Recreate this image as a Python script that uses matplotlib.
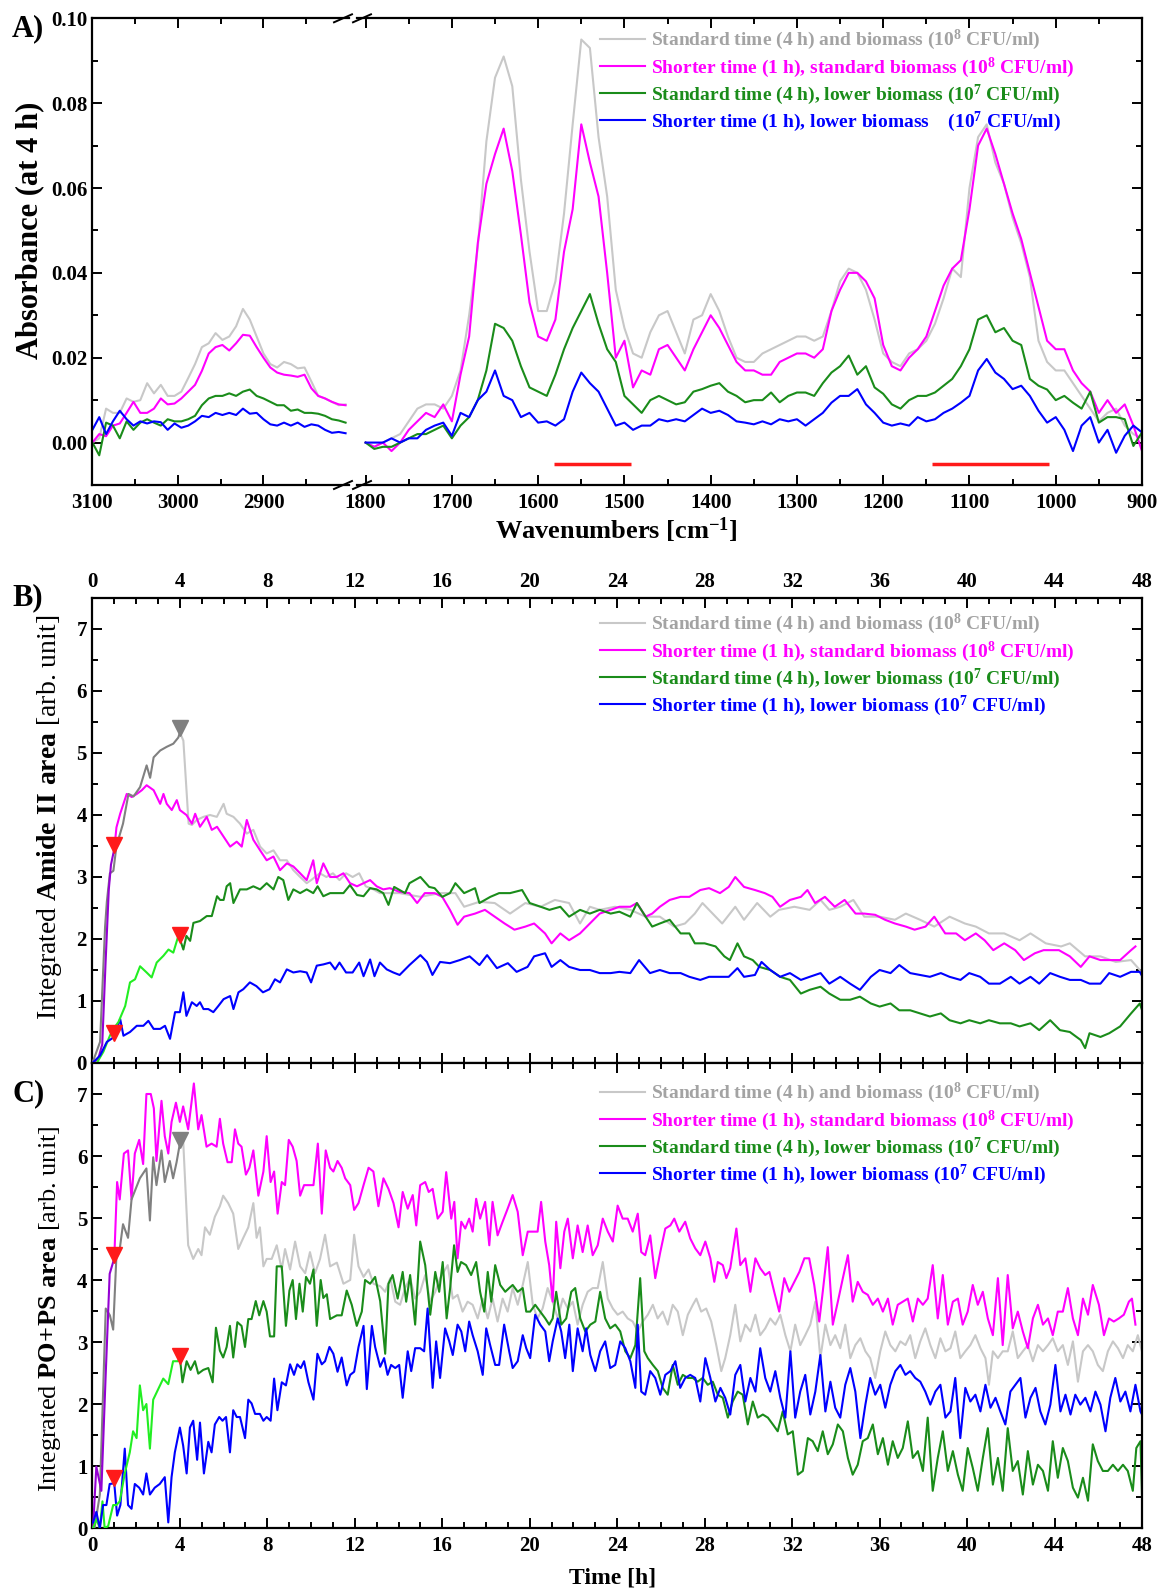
import numpy as np
import matplotlib
matplotlib.use("Agg")
import matplotlib.pyplot as plt
from matplotlib.ticker import MultipleLocator, FixedLocator, FormatStrFormatter
from matplotlib.lines import Line2D

plt.rcParams['font.family'] = 'Liberation Serif'
plt.rcParams['font.weight'] = 'bold'
plt.rcParams['mathtext.fontset'] = 'custom'
plt.rcParams['mathtext.rm'] = 'Liberation Serif:bold'
plt.rcParams['mathtext.bf'] = 'Liberation Serif:bold'
plt.rcParams['mathtext.it'] = 'Liberation Serif:bold'
plt.rcParams['axes.linewidth'] = 1.6

# colours
GRAY = '#c8c8c8'
GRAY_DARK = '#808080'
GRAY_TXT = '#a3a3a3'
MAGENTA = '#ff00ff'
PURPLE = '#9400d3'
GREEN = '#1a8c1a'
LIME = '#22ee22'
BLUE = '#0000ff'
RED = '#ff1a1a'

labels_a = ['Standard time (4 h) and biomass (10$^{8}$ CFU/ml)',
            'Shorter time (1 h), standard biomass (10$^{8}$ CFU/ml)',
            'Standard time (4 h), lower biomass (10$^{7}$ CFU/ml)',
            'Shorter time (1 h), lower biomass    (10$^{7}$ CFU/ml)']
labels_bc = labels_a[:3] + ['Shorter time (1 h), lower biomass (10$^{7}$ CFU/ml)']

# ---------------- panel A : spectra at 4 h ----------------
wn_left = np.arange(3100, 2800, -8)          # 3100 ... 2804
gray_l = [0.000, 0.001, 0.008, 0.007, 0.007, 0.0104, 0.0096, 0.010, 0.014, 0.0116,
          0.0136, 0.011, 0.011, 0.012, 0.0152, 0.0185, 0.0225, 0.0234, 0.0258, 0.0242,
          0.025, 0.0274, 0.0315, 0.029, 0.025, 0.021, 0.0185, 0.0177, 0.019, 0.0185,
          0.0175, 0.0177, 0.0144, 0.011, 0.0104, 0.0096, 0.0088, 0.009]
mag_l = [0.000, 0.002, 0.0015, 0.004, 0.0045, 0.007, 0.0096, 0.007, 0.007, 0.008,
         0.0104, 0.009, 0.0092, 0.0104, 0.012, 0.0136, 0.0169, 0.021, 0.0225, 0.023,
         0.0217, 0.0234, 0.0254, 0.0252, 0.0225, 0.020, 0.0177, 0.0165, 0.016, 0.0158,
         0.0155, 0.016, 0.0128, 0.011, 0.0104, 0.0096, 0.009, 0.0088]
green_l = [0.000, -0.003, 0.0047, 0.004, 0.001, 0.005, 0.003, 0.0047, 0.0055, 0.0047,
           0.004, 0.0055, 0.005, 0.005, 0.0055, 0.0063, 0.0088, 0.0104, 0.011, 0.011,
           0.0116, 0.011, 0.012, 0.0125, 0.011, 0.0104, 0.0096, 0.0088, 0.0088, 0.0075,
           0.0078, 0.007, 0.007, 0.0068, 0.0063, 0.0055, 0.0052, 0.0047]
blue_l = [0.003, 0.006, 0.002, 0.005, 0.0075, 0.0055, 0.004, 0.005, 0.0045, 0.005,
          0.0048, 0.003, 0.0045, 0.0035, 0.004, 0.005, 0.0063, 0.006, 0.007, 0.0065,
          0.007, 0.0065, 0.008, 0.0068, 0.007, 0.0055, 0.0043, 0.004, 0.0047, 0.004,
          0.0047, 0.0037, 0.0043, 0.004, 0.003, 0.0023, 0.0025, 0.0022]

wn_right = np.arange(1800, 899, -10)         # 1800 ... 900
gray_r = [0.000, -0.001, 0.000, 0.001, 0.002, 0.005, 0.008, 0.009, 0.009, 0.008,
          0.011, 0.017, 0.030, 0.046, 0.071, 0.086, 0.091, 0.084, 0.062, 0.045,
          0.031, 0.031, 0.038, 0.054, 0.075, 0.095, 0.093, 0.072, 0.058, 0.036,
          0.027, 0.021, 0.020, 0.026, 0.030, 0.031, 0.026, 0.021, 0.029, 0.030,
          0.035, 0.031, 0.025, 0.020, 0.019, 0.019, 0.021, 0.022, 0.023, 0.024,
          0.025, 0.025, 0.024, 0.025, 0.031, 0.038, 0.041, 0.040, 0.036, 0.029,
          0.021, 0.019, 0.018, 0.021, 0.022, 0.024, 0.028, 0.034, 0.041, 0.039,
          0.060, 0.072, 0.075, 0.066, 0.061, 0.053, 0.047, 0.039, 0.024, 0.019,
          0.017, 0.017, 0.014, 0.011, 0.008, 0.005, 0.007, 0.008, 0.004, 0.002,
          0.001]
mag_r = [0.000, -0.001, 0.000, -0.002, 0.000, 0.003, 0.005, 0.007, 0.006, 0.009,
         0.005, 0.016, 0.025, 0.047, 0.061, 0.068, 0.074, 0.064, 0.049, 0.033,
         0.025, 0.024, 0.029, 0.045, 0.055, 0.075, 0.066, 0.058, 0.040, 0.020,
         0.024, 0.013, 0.017, 0.016, 0.022, 0.023, 0.020, 0.017, 0.022, 0.026,
         0.030, 0.027, 0.023, 0.019, 0.017, 0.017, 0.016, 0.016, 0.019, 0.020,
         0.021, 0.021, 0.020, 0.022, 0.031, 0.036, 0.040, 0.040, 0.038, 0.034,
         0.023, 0.018, 0.017, 0.020, 0.022, 0.025, 0.031, 0.037, 0.041, 0.043,
         0.055, 0.070, 0.074, 0.068, 0.061, 0.054, 0.048, 0.040, 0.032, 0.024,
         0.022, 0.022, 0.017, 0.014, 0.012, 0.007, 0.010, 0.007, 0.009, 0.004,
         -0.002]
green_r = [0.000, -0.0015, -0.001, -0.001, 0.000, 0.001, 0.002, 0.002, 0.003, 0.004,
           0.001, 0.004, 0.006, 0.010, 0.017, 0.028, 0.027, 0.024, 0.018, 0.013,
           0.012, 0.011, 0.016, 0.022, 0.027, 0.031, 0.035, 0.028, 0.022, 0.019,
           0.011, 0.009, 0.007, 0.010, 0.011, 0.010, 0.009, 0.0095, 0.012, 0.0126,
           0.0134, 0.014, 0.012, 0.011, 0.0095, 0.010, 0.010, 0.0118, 0.0095, 0.011,
           0.0118, 0.0118, 0.011, 0.014, 0.0165, 0.018, 0.0205, 0.016, 0.018, 0.013,
           0.0115, 0.009, 0.008, 0.010, 0.011, 0.011, 0.0118, 0.0134, 0.015, 0.018,
           0.022, 0.029, 0.030, 0.026, 0.027, 0.024, 0.023, 0.015, 0.0134, 0.0125,
           0.010, 0.011, 0.0094, 0.008, 0.012, 0.0047, 0.006, 0.006, 0.0055, -0.0008,
           0.0024]
blue_r = [0.000, 0.000, 0.000, 0.001, 0.000, 0.001, 0.001, 0.003, 0.004, 0.0047,
          0.0016, 0.007, 0.006, 0.010, 0.012, 0.017, 0.011, 0.010, 0.006, 0.007,
          0.0047, 0.005, 0.004, 0.0055, 0.012, 0.0165, 0.014, 0.012, 0.008, 0.004,
          0.0047, 0.003, 0.004, 0.004, 0.0055, 0.005, 0.0055, 0.005, 0.0065, 0.008,
          0.007, 0.0075, 0.0065, 0.005, 0.0047, 0.0043, 0.005, 0.0043, 0.0055, 0.005,
          0.0055, 0.004, 0.0055, 0.007, 0.0094, 0.011, 0.011, 0.0126, 0.009, 0.007,
          0.0047, 0.004, 0.0045, 0.004, 0.006, 0.005, 0.0055, 0.007, 0.008, 0.0094,
          0.011, 0.017, 0.0197, 0.0165, 0.015, 0.0126, 0.0134, 0.011, 0.0075, 0.0047,
          0.006, 0.003, -0.002, 0.004, 0.006, 0.000, 0.003, -0.0024, 0.0016, 0.004,
          0.0024]
# integration ranges (Amide II, PO+PS) marked under the spectra
band_amide = (1582, 1492)
band_pops = (1143, 1008)
band_level = -0.005

# ---------------- panel B : integrated Amide II area ----------------
gray_b = [(0.0, 0.0), (0.35, 0.34), (0.58, 2.2), (0.66, 2.6), (0.8, 3.06), (0.96, 3.1),
          (1.1, 3.5), (1.4, 3.86), (1.65, 4.34), (1.88, 4.3), (2.18, 4.45), (2.48, 4.8),
          (2.64, 4.6), (2.8, 4.93), (3.1, 5.04), (3.4, 5.1), (3.7, 5.15), (3.93, 5.25),
          (4.0, 5.33), (4.16, 5.2), (4.4, 3.86), (4.55, 3.84), (4.77, 3.92), (5.08, 3.97),
          (5.38, 4.0), (5.69, 3.97), (6.0, 4.18), (6.14, 4.02), (6.45, 3.97), (6.75, 3.86),
          (7.06, 3.7), (7.36, 3.76), (7.67, 3.49), (7.97, 3.38), (8.28, 3.43), (8.58, 3.27),
          (8.89, 3.27), (9.19, 3.11), (9.5, 3.0), (9.8, 2.9), (10.0, 2.95), (10.4, 3.06),
          (10.7, 3.0), (11.0, 3.06), (11.3, 2.95), (11.6, 3.06), (11.9, 3.0), (12.2, 3.06),
          (12.5, 2.85), (12.85, 2.8), (13.15, 2.74), (13.8, 2.74), (14.05, 2.74), (15.0, 2.68),
          (15.9, 2.74), (16.6, 2.74), (17.0, 2.52), (17.7, 2.6), (18.4, 2.58), (19.1, 2.41),
          (19.8, 2.58), (20.5, 2.52), (21.15, 2.63), (21.8, 2.58), (22.3, 2.25), (22.75, 2.52),
          (23.2, 2.47), (23.9, 2.52), (24.6, 2.47), (25.3, 2.36), (25.95, 2.36), (26.6, 2.2),
          (27.1, 2.25), (27.55, 2.41), (27.9, 2.58), (28.2, 2.47), (28.8, 2.25), (29.4, 2.52),
          (29.8, 2.31), (30.4, 2.58), (31.0, 2.36), (31.4, 2.47), (32.1, 2.52), (32.8, 2.47),
          (33.3, 2.63), (33.7, 2.47), (34.2, 2.52), (34.8, 2.63), (35.3, 2.36), (36.0, 2.36),
          (36.7, 2.31), (37.2, 2.41), (37.85, 2.31), (38.5, 2.2), (39.2, 2.36), (39.9, 2.25),
          (40.4, 2.2), (41.0, 2.09), (41.7, 2.09), (42.4, 1.98), (42.9, 2.09), (43.6, 1.93),
          (44.3, 1.88), (44.7, 1.93), (45.4, 1.72), (46.1, 1.72), (46.8, 1.63), (47.5, 1.66),
          (47.9, 1.5)]
mag_b = [(0.0, 0.0), (0.27, 0.07), (0.45, 0.3), (0.6, 1.6), (0.75, 2.8), (0.85, 3.2),
         (1.0, 3.45), (1.1, 3.8), (1.27, 4.02), (1.57, 4.34), (1.8, 4.29), (2.03, 4.34),
         (2.26, 4.4), (2.48, 4.48), (2.8, 4.4), (3.1, 4.18), (3.25, 4.34), (3.4, 4.18),
         (3.63, 4.08), (3.86, 4.24), (4.0, 4.08), (4.3, 4.0), (4.55, 3.86), (4.7, 4.02),
         (4.92, 3.81), (5.23, 3.97), (5.46, 3.76), (5.7, 3.81), (6.0, 3.65), (6.3, 3.49),
         (6.6, 3.57), (6.83, 3.49), (7.06, 3.92), (7.36, 3.6), (7.67, 3.43), (7.97, 3.27),
         (8.28, 3.33), (8.58, 3.11), (8.89, 3.22), (9.19, 3.17), (9.5, 3.06), (9.8, 2.95),
         (10.1, 3.27), (10.26, 2.9), (10.56, 3.22), (10.87, 3.0), (11.17, 3.0), (11.48, 3.06),
         (11.78, 2.9), (12.1, 2.85), (12.4, 2.9), (12.7, 2.95), (13.0, 2.85), (13.3, 2.8),
         (13.6, 2.82), (14.05, 2.76), (14.5, 2.74), (14.85, 2.58), (15.2, 2.74), (15.65, 2.74),
         (16.0, 2.68), (16.35, 2.47), (16.7, 2.23), (17.0, 2.36), (17.5, 2.41), (17.95, 2.47),
         (18.4, 2.36), (18.85, 2.25), (19.3, 2.15), (19.8, 2.2), (20.2, 2.25), (20.7, 2.09),
         (21.0, 1.93), (21.4, 2.09), (21.8, 1.98), (22.3, 2.09), (22.75, 2.25), (23.2, 2.41),
         (23.7, 2.47), (24.1, 2.52), (24.6, 2.52), (24.9, 2.58), (25.3, 2.36), (25.6, 2.41),
         (25.95, 2.52), (26.4, 2.63), (26.9, 2.68), (27.3, 2.68), (27.8, 2.79), (28.2, 2.82),
         (28.7, 2.74), (29.1, 2.84), (29.4, 3.0), (29.8, 2.84), (30.3, 2.79), (30.75, 2.74),
         (31.1, 2.68), (31.45, 2.52), (31.9, 2.63), (32.4, 2.68), (32.7, 2.79), (33.05, 2.58),
         (33.5, 2.68), (33.95, 2.52), (34.4, 2.63), (34.9, 2.41), (35.3, 2.41), (35.8, 2.39),
         (36.25, 2.31), (36.7, 2.25), (37.2, 2.2), (37.6, 2.15), (38.1, 2.2), (38.5, 2.36),
         (39.0, 2.09), (39.5, 2.09), (39.9, 1.98), (40.4, 2.09), (40.8, 1.98), (41.2, 1.82),
         (41.7, 1.93), (42.2, 1.82), (42.6, 1.66), (43.1, 1.77), (43.5, 1.82), (44.2, 1.82),
         (44.7, 1.72), (45.2, 1.55), (45.6, 1.72), (46.1, 1.66), (46.5, 1.66), (47.0, 1.66),
         (47.5, 1.82), (47.7, 1.88)]
green_b = [(0.2, 0.0), (0.5, 0.18), (0.8, 0.44), (0.96, 0.55), (1.19, 0.66), (1.5, 0.92),
           (1.72, 1.3), (1.95, 1.35), (2.18, 1.56), (2.48, 1.46), (2.71, 1.38), (2.94, 1.62),
           (3.25, 1.73), (3.48, 1.83), (3.7, 1.78), (3.93, 2.05), (4.0, 2.0), (4.16, 1.83),
           (4.3, 2.05), (4.47, 1.97), (4.62, 2.26), (4.92, 2.29), (5.23, 2.37), (5.46, 2.37),
           (5.7, 2.69), (5.84, 2.63), (6.0, 2.63), (6.14, 2.85), (6.3, 2.9), (6.45, 2.58),
           (6.75, 2.8), (7.06, 2.8), (7.36, 2.85), (7.67, 2.8), (7.97, 2.9), (8.28, 2.8),
           (8.5, 3.0), (8.73, 2.95), (8.96, 2.63), (9.19, 2.8), (9.5, 2.74), (9.8, 2.8),
           (10.1, 2.74), (10.3, 2.85), (10.56, 2.69), (10.87, 2.74), (11.17, 2.74), (11.48, 2.74),
           (11.78, 2.87), (12.1, 2.71), (12.4, 2.69), (12.7, 2.82), (13.0, 2.8), (13.3, 2.74),
           (13.54, 2.55), (13.8, 2.84), (14.3, 2.74), (14.5, 2.9), (15.0, 3.0), (15.4, 2.84),
           (15.65, 2.82), (16.0, 2.68), (16.35, 2.74), (16.6, 2.9), (17.0, 2.74), (17.5, 2.82),
           (17.7, 2.58), (18.2, 2.68), (18.6, 2.74), (19.1, 2.74), (19.65, 2.79), (20.0, 2.58),
           (20.5, 2.52), (20.9, 2.47), (21.4, 2.52), (21.8, 2.36), (22.3, 2.47), (22.75, 2.41),
           (23.2, 2.47), (23.7, 2.41), (24.1, 2.44), (24.6, 2.36), (24.9, 2.58), (25.3, 2.36),
           (25.6, 2.2), (25.95, 2.25), (26.4, 2.31), (26.9, 2.09), (27.3, 2.09), (27.55, 1.93),
           (28.0, 1.93), (28.5, 1.88), (28.9, 1.72), (29.15, 1.66), (29.5, 1.93), (29.8, 1.72),
           (30.2, 1.66), (30.5, 1.55), (31.0, 1.5), (31.45, 1.39), (31.9, 1.34), (32.4, 1.12),
           (32.8, 1.18), (33.3, 1.23), (33.7, 1.12), (34.2, 1.02), (34.65, 1.02), (35.1, 1.07),
           (35.6, 0.96), (36.0, 0.91), (36.5, 0.96), (36.9, 0.85), (37.4, 0.85), (37.85, 0.8),
           (38.3, 0.75), (38.8, 0.8), (39.2, 0.69), (39.7, 0.64), (40.1, 0.69), (40.6, 0.64),
           (41.0, 0.69), (41.5, 0.64), (42.0, 0.64), (42.4, 0.59), (42.9, 0.64), (43.3, 0.53),
           (43.8, 0.69), (44.25, 0.53), (44.7, 0.5), (45.2, 0.37), (45.4, 0.24), (45.6, 0.48),
           (46.1, 0.42), (46.5, 0.48), (47.0, 0.59), (47.5, 0.8), (47.9, 0.96), (48.1, 0.75)]
blue_b = [(0.0, 0.0), (0.35, 0.12), (0.66, 0.34), (1.0, 0.42), (1.27, 0.71), (1.42, 0.44),
          (1.72, 0.5), (2.03, 0.6), (2.33, 0.6), (2.56, 0.68), (2.8, 0.55), (3.1, 0.55),
          (3.32, 0.6), (3.55, 0.39), (3.78, 0.82), (4.0, 0.82), (4.16, 1.14), (4.3, 0.76),
          (4.55, 0.98), (4.77, 0.92), (4.92, 0.98), (5.08, 0.87), (5.3, 0.87), (5.53, 0.82),
          (5.76, 0.92), (6.0, 1.03), (6.3, 1.08), (6.45, 0.87), (6.68, 1.14), (6.9, 1.19),
          (7.2, 1.3), (7.5, 1.24), (7.8, 1.14), (8.1, 1.19), (8.35, 1.35), (8.58, 1.3),
          (8.89, 1.51), (9.19, 1.46), (9.5, 1.48), (9.8, 1.46), (10.0, 1.3), (10.26, 1.57),
          (10.56, 1.59), (10.87, 1.62), (11.1, 1.51), (11.3, 1.62), (11.6, 1.46), (11.9, 1.46),
          (12.2, 1.62), (12.4, 1.4), (12.7, 1.67), (12.9, 1.4), (13.15, 1.62), (13.46, 1.51),
          (13.76, 1.46), (14.05, 1.42), (14.5, 1.58), (15.0, 1.74), (15.3, 1.63), (15.55, 1.42),
          (15.9, 1.63), (16.35, 1.61), (16.8, 1.66), (17.25, 1.72), (17.7, 1.58), (18.05, 1.74),
          (18.5, 1.53), (19.0, 1.61), (19.4, 1.47), (19.9, 1.55), (20.2, 1.72), (20.7, 1.77),
          (21.0, 1.55), (21.4, 1.66), (21.8, 1.55), (22.3, 1.5), (22.75, 1.5), (23.2, 1.45),
          (23.7, 1.45), (24.1, 1.47), (24.6, 1.45), (25.0, 1.66), (25.5, 1.45), (25.95, 1.5),
          (26.4, 1.45), (26.9, 1.45), (27.3, 1.39), (27.8, 1.34), (28.2, 1.39), (28.7, 1.39),
          (29.1, 1.39), (29.5, 1.53), (29.8, 1.39), (30.3, 1.42), (30.6, 1.63), (31.0, 1.5),
          (31.45, 1.39), (31.9, 1.45), (32.4, 1.34), (32.8, 1.39), (33.3, 1.45), (33.7, 1.28),
          (34.2, 1.39), (34.65, 1.28), (35.1, 1.18), (35.6, 1.39), (36.0, 1.5), (36.5, 1.45),
          (36.9, 1.58), (37.4, 1.45), (37.85, 1.42), (38.3, 1.39), (38.8, 1.45), (39.2, 1.39),
          (39.7, 1.34), (40.1, 1.45), (40.6, 1.39), (41.0, 1.28), (41.5, 1.28), (42.0, 1.39),
          (42.4, 1.28), (42.9, 1.39), (43.3, 1.28), (43.8, 1.45), (44.25, 1.39), (44.7, 1.34),
          (45.2, 1.34), (45.6, 1.28), (46.1, 1.28), (46.5, 1.45), (47.0, 1.39), (47.5, 1.47),
          (47.9, 1.47), (48.1, 1.34)]
marks_b_red = [(1.0, 3.45), (1.0, 0.42), (4.0, 2.0)]
marks_b_gray = [(4.0, 5.35)]

# ---------------- panel C : integrated PO+PS area ----------------
gray_c = [(0.1, 0.0), (0.34, 0.54), (0.61, 3.54), (0.8, 3.43), (0.95, 3.2), (1.1, 4.4),
          (1.25, 4.5), (1.4, 4.9), (1.63, 4.68), (1.79, 5.3), (2.17, 5.64), (2.47, 5.8),
          (2.63, 4.96), (2.78, 5.98), (2.93, 5.53), (3.16, 6.09), (3.31, 5.58), (3.54, 5.92),
          (3.69, 5.64), (3.85, 5.9), (4.0, 6.2), (4.15, 6.26), (4.38, 4.56), (4.61, 4.34),
          (4.84, 4.5), (4.99, 4.4), (5.15, 4.85), (5.37, 4.73), (5.6, 5.02), (5.83, 5.19),
          (5.98, 5.36), (6.21, 5.24), (6.44, 5.07), (6.67, 4.5), (6.9, 4.68), (7.13, 4.85),
          (7.36, 5.24), (7.51, 4.68), (7.66, 4.85), (7.82, 4.22), (7.97, 4.34), (8.2, 4.34),
          (8.43, 4.56), (8.66, 4.17), (8.81, 4.5), (9.04, 4.17), (9.27, 4.62), (9.5, 4.22),
          (9.73, 4.11), (9.95, 4.45), (10.18, 4.11), (10.41, 4.34), (10.64, 4.73), (10.87, 4.22),
          (11.18, 4.28), (11.48, 3.94), (11.79, 4.0), (11.97, 4.73), (12.17, 4.22), (12.4, 4.05),
          (12.63, 4.17), (12.85, 3.94), (13.16, 3.9), (13.39, 3.81), (13.62, 4.03), (13.85, 3.65),
          (14.07, 3.6), (14.3, 3.87), (14.53, 4.03), (14.76, 3.7), (14.99, 3.81), (15.22, 4.08),
          (15.45, 3.65), (15.68, 3.81), (15.9, 4.03), (16.25, 4.24), (16.48, 3.7), (16.7, 3.76),
          (16.93, 3.49), (17.16, 3.65), (17.39, 3.6), (17.62, 3.38), (17.85, 3.7), (18.08, 3.38),
          (18.3, 3.7), (18.53, 3.33), (18.76, 3.7), (18.99, 3.49), (19.22, 3.87), (19.45, 3.6),
          (19.68, 3.92), (19.91, 4.29), (20.14, 3.6), (20.36, 3.38), (20.59, 3.54), (20.82, 3.87),
          (21.05, 3.65), (21.28, 3.38), (21.51, 3.7), (21.74, 3.54), (21.97, 3.65), (22.19, 3.28),
          (22.42, 3.6), (22.65, 3.81), (22.88, 3.87), (23.11, 3.87), (23.34, 4.29), (23.57, 3.7),
          (23.8, 3.54), (24.02, 3.44), (24.25, 3.49), (24.48, 3.38), (24.71, 3.33), (24.94, 3.17),
          (25.17, 3.33), (25.4, 3.44), (25.63, 3.6), (25.85, 3.38), (26.08, 3.49), (26.31, 3.28),
          (26.54, 3.6), (26.77, 3.49), (27.0, 3.11), (27.23, 3.44), (27.46, 3.6), (27.62, 3.7),
          (27.84, 3.49), (28.07, 3.54), (28.3, 3.33), (28.53, 2.95), (28.76, 2.53), (28.94, 2.74),
          (29.17, 3.11), (29.4, 3.6), (29.63, 3.01), (29.86, 3.28), (30.09, 3.17), (30.32, 3.44),
          (30.54, 3.11), (30.77, 3.22), (31.0, 3.38), (31.23, 3.28), (31.46, 3.44), (31.69, 3.11),
          (31.92, 2.85), (32.14, 3.28), (32.37, 2.95), (32.6, 3.11), (32.83, 3.28), (33.06, 3.65),
          (33.29, 2.74), (33.52, 3.28), (33.75, 2.95), (33.97, 3.11), (34.2, 2.9), (34.43, 3.28),
          (34.66, 2.74), (34.89, 2.95), (35.12, 3.06), (35.35, 2.85), (35.57, 2.74), (35.8, 2.42),
          (36.03, 2.85), (36.26, 3.17), (36.49, 2.95), (36.72, 2.85), (36.95, 3.01), (37.18, 2.95),
          (37.4, 3.11), (37.63, 2.74), (37.86, 3.01), (38.09, 3.22), (38.32, 2.95), (38.55, 2.74),
          (38.78, 3.06), (39.01, 2.85), (39.24, 2.9), (39.46, 3.17), (39.69, 2.74), (39.92, 2.85),
          (40.15, 2.95), (40.38, 3.11), (40.61, 2.9), (40.84, 2.74), (41.0, 2.31), (41.18, 2.85),
          (41.41, 2.74), (41.63, 2.85), (41.86, 2.85), (42.09, 3.17), (42.32, 2.74), (42.55, 2.85),
          (42.78, 2.95), (43.01, 2.69), (43.24, 2.95), (43.47, 2.85), (43.7, 2.95), (43.92, 3.06),
          (44.15, 2.85), (44.38, 2.95), (44.61, 2.63), (44.84, 3.01), (45.07, 2.36), (45.3, 2.85),
          (45.53, 2.95), (45.75, 2.85), (45.98, 2.63), (46.21, 2.53), (46.44, 2.85), (46.67, 3.01),
          (46.9, 2.9), (47.13, 2.74), (47.35, 2.95), (47.58, 2.85), (47.81, 3.11), (48.04, 2.79)]
mag_c = [(0.03, 0.0), (0.18, 0.99), (0.41, 0.6), (0.6, 2.4), (0.79, 4.1), (1.0, 4.35),
         (1.13, 5.58), (1.25, 5.3), (1.44, 6.04), (1.63, 6.09), (1.79, 5.3), (1.94, 6.04),
         (2.14, 6.26), (2.32, 5.87), (2.47, 7.0), (2.67, 7.0), (2.81, 6.77), (2.93, 5.92),
         (3.16, 6.89), (3.31, 6.32), (3.47, 6.04), (3.62, 6.55), (3.82, 6.86), (4.0, 6.55),
         (4.15, 6.8), (4.38, 6.43), (4.64, 7.17), (4.84, 6.43), (4.99, 6.66), (5.22, 6.15),
         (5.45, 6.2), (5.68, 6.15), (5.83, 6.6), (5.98, 6.2), (6.18, 5.9), (6.37, 5.9),
         (6.52, 6.43), (6.67, 6.2), (6.82, 6.15), (7.02, 5.7), (7.18, 5.81), (7.36, 6.09),
         (7.59, 5.36), (7.82, 5.75), (7.97, 6.32), (8.15, 5.58), (8.31, 5.75), (8.47, 5.07),
         (8.66, 5.58), (8.81, 5.53), (8.98, 6.26), (9.16, 6.15), (9.34, 5.92), (9.5, 5.36),
         (9.68, 5.53), (9.88, 5.53), (10.11, 5.53), (10.31, 6.2), (10.49, 5.07), (10.67, 6.09),
         (10.87, 5.81), (11.02, 5.75), (11.21, 5.92), (11.4, 5.81), (11.56, 5.64), (11.79, 5.53),
         (11.97, 5.13), (12.17, 5.24), (12.4, 5.53), (12.63, 5.81), (12.85, 5.75), (13.08, 5.19),
         (13.31, 5.64), (13.54, 5.47), (13.77, 5.24), (14.0, 4.85), (14.19, 5.42), (14.42, 5.15),
         (14.65, 5.37), (14.81, 4.88), (14.99, 5.53), (15.22, 5.58), (15.38, 5.42), (15.56, 5.47),
         (15.79, 4.99), (16.02, 5.1), (16.18, 5.74), (16.41, 4.99), (16.55, 5.26), (16.7, 4.35),
         (16.87, 4.94), (17.05, 4.83), (17.23, 4.99), (17.39, 4.78), (17.55, 5.31), (17.73, 4.99),
         (17.96, 5.26), (18.15, 4.56), (18.3, 5.26), (18.53, 4.72), (18.76, 4.94), (18.99, 5.15),
         (19.22, 5.37), (19.45, 5.1), (19.68, 4.4), (19.91, 4.78), (20.14, 4.78), (20.36, 4.78),
         (20.52, 5.26), (20.71, 4.62), (20.89, 4.24), (21.05, 3.65), (21.21, 4.94), (21.4, 4.19),
         (21.58, 4.78), (21.74, 4.99), (21.97, 4.35), (22.19, 4.88), (22.42, 4.45), (22.65, 4.88),
         (22.88, 4.4), (23.11, 4.56), (23.34, 4.99), (23.57, 4.78), (23.8, 4.62), (24.02, 5.2),
         (24.25, 4.99), (24.48, 4.99), (24.71, 4.78), (24.94, 5.07), (25.1, 4.45), (25.28, 4.4),
         (25.51, 4.72), (25.74, 4.03), (25.97, 4.45), (26.2, 4.83), (26.43, 4.88), (26.61, 4.99),
         (26.84, 4.78), (27.11, 4.94), (27.34, 4.67), (27.57, 4.51), (27.8, 4.4), (28.03, 4.62),
         (28.26, 4.35), (28.44, 3.97), (28.6, 4.29), (28.83, 4.24), (28.99, 4.03), (29.17, 4.19),
         (29.45, 4.83), (29.63, 4.24), (29.86, 4.35), (30.09, 3.81), (30.32, 4.35), (30.54, 4.19),
         (30.77, 4.08), (30.96, 4.13), (31.18, 3.81), (31.41, 3.49), (31.64, 4.03), (31.87, 3.81),
         (32.1, 3.97), (32.33, 4.13), (32.56, 4.35), (32.78, 4.35), (33.01, 3.92), (33.24, 3.33),
         (33.4, 3.81), (33.63, 4.53), (33.86, 3.28), (34.09, 3.65), (34.32, 4.03), (34.55, 4.4),
         (34.77, 3.65), (35.0, 3.97), (35.23, 3.81), (35.46, 3.76), (35.69, 3.6), (35.92, 3.7),
         (36.15, 3.49), (36.38, 3.7), (36.6, 3.28), (36.83, 3.6), (37.06, 3.65), (37.29, 3.7),
         (37.52, 3.33), (37.75, 3.7), (37.98, 3.6), (38.2, 3.7), (38.43, 4.24), (38.66, 3.38),
         (38.89, 4.08), (39.12, 3.28), (39.35, 3.65), (39.58, 3.7), (39.8, 3.28), (40.03, 3.49),
         (40.26, 3.92), (40.49, 3.6), (40.72, 3.81), (40.95, 3.38), (41.18, 3.11), (41.41, 4.03),
         (41.63, 2.95), (41.86, 4.08), (42.09, 3.22), (42.32, 3.49), (42.55, 3.17), (42.78, 2.9),
         (43.01, 3.38), (43.24, 3.6), (43.47, 3.28), (43.7, 3.38), (43.92, 3.11), (44.15, 3.49),
         (44.38, 3.49), (44.61, 3.87), (44.84, 3.38), (45.07, 3.11), (45.3, 3.7), (45.53, 3.44),
         (45.75, 3.92), (46.03, 3.6), (46.26, 3.11), (46.49, 3.38), (46.71, 3.33), (46.94, 3.38),
         (47.17, 3.44), (47.4, 3.65), (47.54, 3.7), (47.7, 3.28)]
green_c = [(0.03, 0.0), (0.18, 0.14), (0.34, 0.0), (0.46, 0.43), (0.56, 0.0), (0.72, 0.03),
           (0.95, 0.37), (1.1, 0.37), (1.25, 0.43), (1.48, 0.88), (1.71, 1.22), (1.86, 1.56),
           (2.02, 1.45), (2.17, 2.3), (2.32, 1.9), (2.47, 2.0), (2.63, 1.28), (2.78, 2.07),
           (3.01, 2.24), (3.24, 2.41), (3.47, 2.32), (3.69, 2.69), (3.92, 2.69), (4.0, 2.75),
           (4.12, 2.35), (4.31, 2.69), (4.49, 2.55), (4.69, 2.69), (4.84, 2.49), (5.07, 2.55),
           (5.3, 2.58), (5.5, 2.35), (5.65, 3.23), (5.83, 2.86), (5.98, 2.75), (6.14, 2.92),
           (6.29, 3.26), (6.44, 2.75), (6.63, 3.32), (6.82, 3.26), (6.98, 2.92), (7.13, 3.37),
           (7.28, 3.37), (7.47, 3.66), (7.63, 3.43), (7.82, 3.66), (7.97, 3.49), (8.12, 3.09),
           (8.31, 3.09), (8.43, 4.22), (8.66, 4.22), (8.85, 3.26), (9.01, 3.83), (9.16, 4.0),
           (9.31, 3.37), (9.47, 3.94), (9.62, 3.49), (9.77, 4.05), (9.95, 3.94), (10.11, 4.17),
           (10.26, 3.26), (10.44, 4.0), (10.56, 3.71), (10.72, 3.77), (10.87, 3.37), (11.18, 3.43),
           (11.4, 3.43), (11.63, 3.83), (11.86, 3.6), (12.09, 3.26), (12.32, 3.49), (12.47, 4.0),
           (12.7, 3.94), (12.93, 4.05), (13.16, 3.66), (13.39, 2.81), (13.54, 3.94), (13.73, 4.08),
           (13.96, 3.7), (14.19, 4.13), (14.35, 3.65), (14.53, 4.08), (14.76, 3.28), (14.99, 4.62),
           (15.22, 4.24), (15.45, 3.44), (15.68, 4.13), (15.86, 3.81), (16.02, 4.29), (16.2, 3.38),
           (16.36, 3.87), (16.54, 4.56), (16.7, 4.13), (16.86, 4.29), (17.09, 4.24), (17.32, 4.08),
           (17.55, 4.29), (17.73, 3.81), (17.92, 3.49), (18.08, 4.13), (18.24, 3.65), (18.42, 4.24),
           (18.65, 3.92), (18.88, 3.81), (19.06, 3.87), (19.22, 3.92), (19.45, 3.81), (19.68, 3.87),
           (19.84, 3.49), (20.02, 3.49), (20.25, 3.6), (20.48, 3.49), (20.71, 3.38), (20.89, 3.28),
           (21.05, 3.38), (21.21, 3.81), (21.44, 3.28), (21.67, 3.38), (21.9, 3.81), (22.08, 3.87),
           (22.31, 3.38), (22.54, 3.17), (22.77, 3.28), (23.0, 3.33), (23.22, 3.81), (23.45, 3.38),
           (23.68, 3.22), (23.91, 3.28), (24.14, 3.17), (24.37, 2.85), (24.6, 2.74), (24.83, 2.95),
           (25.05, 4.03), (25.24, 2.85), (25.4, 2.74), (25.63, 2.63), (25.86, 2.53), (26.08, 2.26),
           (26.31, 2.15), (26.54, 2.63), (26.77, 2.31), (27.0, 2.47), (27.23, 2.42), (27.46, 2.42),
           (27.68, 2.36), (27.91, 2.42), (28.14, 2.31), (28.37, 2.36), (28.6, 2.15), (28.83, 2.1),
           (29.06, 1.78), (29.28, 2.04), (29.51, 2.2), (29.74, 2.15), (29.97, 1.67), (30.2, 2.04),
           (30.43, 1.78), (30.66, 1.83), (30.89, 1.78), (31.12, 1.67), (31.34, 1.56), (31.57, 1.88),
           (31.8, 1.51), (32.03, 1.56), (32.26, 0.86), (32.49, 0.92), (32.72, 1.45), (32.94, 1.4),
           (33.17, 1.24), (33.4, 1.56), (33.63, 1.19), (33.86, 1.35), (34.09, 1.67), (34.32, 1.56),
           (34.55, 1.13), (34.77, 0.86), (35.0, 1.02), (35.23, 1.4), (35.46, 1.45), (35.69, 1.67),
           (35.92, 1.19), (36.15, 1.45), (36.38, 1.02), (36.6, 1.4), (36.83, 1.13), (37.06, 1.29),
           (37.29, 1.72), (37.52, 1.13), (37.75, 1.24), (37.98, 0.92), (38.2, 1.78), (38.43, 0.6),
           (38.66, 1.13), (38.89, 1.56), (39.12, 0.92), (39.35, 1.24), (39.58, 0.86), (39.8, 0.6),
           (40.03, 1.29), (40.26, 0.97), (40.49, 0.6), (40.72, 1.13), (40.95, 1.61), (41.18, 0.7),
           (41.41, 1.13), (41.63, 0.6), (41.86, 1.61), (42.09, 0.92), (42.32, 1.08), (42.55, 0.54),
           (42.78, 1.24), (43.01, 0.7), (43.24, 1.02), (43.47, 0.92), (43.7, 0.6), (43.92, 1.4),
           (44.15, 0.81), (44.38, 1.29), (44.61, 1.08), (44.84, 0.65), (45.07, 0.49), (45.3, 0.81),
           (45.53, 0.44), (45.75, 1.35), (45.98, 1.08), (46.21, 0.92), (46.44, 0.92), (46.67, 1.02),
           (46.9, 0.92), (47.13, 1.02), (47.35, 0.92), (47.58, 0.6), (47.74, 1.29), (47.93, 1.4),
           (48.0, 0.54)]
blue_c = [(0.03, 0.09), (0.18, 0.26), (0.34, 0.0), (0.49, 0.37), (0.64, 0.37), (0.79, 0.71),
          (1.0, 0.72), (1.13, 0.2), (1.28, 0.37), (1.48, 1.28), (1.63, 0.37), (1.79, 0.31),
          (1.94, 0.71), (2.14, 0.65), (2.32, 0.54), (2.47, 0.88), (2.63, 0.54), (2.85, 0.65),
          (3.08, 0.71), (3.31, 0.82), (3.47, 0.09), (3.62, 0.82), (3.77, 1.22), (4.0, 1.62),
          (4.15, 1.33), (4.31, 0.88), (4.46, 1.62), (4.61, 1.73), (4.79, 1.1), (4.92, 1.7),
          (5.1, 0.88), (5.3, 1.39), (5.45, 1.22), (5.6, 1.67), (5.8, 1.79), (5.95, 1.73),
          (6.11, 1.79), (6.29, 1.22), (6.44, 1.9), (6.6, 1.79), (6.75, 1.79), (6.98, 1.45),
          (7.13, 2.07), (7.28, 2.01), (7.44, 1.84), (7.66, 1.84), (7.82, 1.73), (7.97, 1.79),
          (8.15, 1.73), (8.31, 2.41), (8.46, 1.9), (8.66, 2.35), (8.85, 2.3), (9.04, 2.64),
          (9.22, 2.47), (9.37, 2.64), (9.53, 2.58), (9.68, 2.69), (9.88, 2.35), (10.11, 2.07),
          (10.29, 2.81), (10.49, 2.64), (10.64, 2.69), (10.84, 2.92), (11.02, 2.81), (11.21, 2.52),
          (11.4, 2.75), (11.63, 2.3), (11.79, 2.47), (11.97, 2.52), (12.17, 2.92), (12.4, 3.26),
          (12.55, 2.24), (12.78, 3.26), (12.93, 2.92), (13.16, 2.6), (13.34, 2.74), (13.5, 2.47),
          (13.66, 2.63), (13.85, 2.58), (14.03, 2.63), (14.19, 2.1), (14.42, 2.85), (14.58, 2.53),
          (14.76, 2.9), (14.99, 2.9), (15.17, 2.85), (15.33, 3.54), (15.56, 2.26), (15.72, 3.01),
          (15.9, 2.42), (16.13, 3.22), (16.32, 3.01), (16.48, 2.79), (16.7, 3.28), (16.87, 3.17),
          (17.05, 2.85), (17.23, 3.33), (17.39, 3.11), (17.62, 2.85), (17.85, 2.47), (18.01, 3.22),
          (18.19, 2.95), (18.42, 2.63), (18.6, 2.63), (18.83, 3.28), (19.06, 2.85), (19.22, 2.58),
          (19.45, 2.69), (19.68, 3.11), (19.84, 2.9), (20.02, 2.74), (20.25, 3.44), (20.48, 3.28),
          (20.71, 3.17), (20.89, 2.69), (21.05, 3.01), (21.28, 3.38), (21.44, 3.17), (21.62, 2.74),
          (21.81, 3.28), (21.97, 2.53), (22.19, 3.22), (22.42, 2.85), (22.58, 3.22), (22.77, 2.79),
          (23.0, 2.53), (23.22, 2.85), (23.45, 3.01), (23.68, 2.58), (23.91, 2.63), (24.14, 3.01),
          (24.37, 2.9), (24.6, 2.69), (24.83, 2.26), (24.94, 3.28), (25.1, 2.2), (25.28, 2.15),
          (25.51, 2.53), (25.74, 2.42), (25.97, 2.15), (26.2, 2.47), (26.43, 2.53), (26.66, 2.69),
          (26.88, 2.26), (27.11, 2.42), (27.34, 2.47), (27.57, 2.42), (27.8, 2.04), (28.03, 2.74),
          (28.26, 2.42), (28.49, 2.04), (28.72, 2.26), (28.94, 2.1), (29.17, 1.83), (29.4, 2.47),
          (29.63, 2.63), (29.86, 2.04), (30.09, 2.42), (30.32, 2.2), (30.54, 2.9), (30.77, 2.42),
          (31.0, 2.2), (31.23, 2.53), (31.46, 2.1), (31.69, 1.78), (31.92, 2.85), (32.14, 1.78),
          (32.37, 2.2), (32.6, 2.47), (32.83, 1.83), (33.06, 2.2), (33.29, 2.79), (33.52, 1.88),
          (33.75, 2.36), (33.97, 1.94), (34.2, 1.78), (34.43, 2.31), (34.66, 2.58), (34.89, 2.2),
          (35.12, 1.45), (35.35, 1.99), (35.57, 2.42), (35.8, 2.15), (36.03, 2.31), (36.26, 1.94),
          (36.49, 2.31), (36.72, 2.53), (36.95, 2.63), (37.18, 2.47), (37.4, 2.53), (37.63, 2.42),
          (37.86, 2.36), (38.09, 2.2), (38.32, 1.99), (38.55, 2.2), (38.78, 2.31), (39.01, 1.78),
          (39.24, 1.88), (39.46, 2.42), (39.69, 1.45), (39.92, 2.26), (40.15, 2.04), (40.38, 2.15),
          (40.61, 1.88), (40.84, 2.31), (41.07, 1.94), (41.3, 2.1), (41.52, 1.88), (41.75, 1.67),
          (41.98, 2.2), (42.21, 2.31), (42.44, 2.42), (42.67, 1.78), (42.9, 2.1), (43.13, 2.26),
          (43.35, 1.88), (43.58, 1.67), (43.81, 1.99), (44.04, 2.63), (44.27, 1.88), (44.5, 2.15),
          (44.73, 1.83), (44.95, 2.15), (45.18, 1.99), (45.41, 2.1), (45.64, 1.88), (45.87, 2.2),
          (46.1, 1.99), (46.33, 1.56), (46.55, 2.1), (46.78, 2.42), (47.01, 2.04), (47.24, 2.2),
          (47.47, 1.88), (47.7, 2.31), (47.93, 1.88), (48.0, 1.83)]
marks_c_red = [(1.0, 4.35), (1.0, 0.75), (4.0, 2.72)]
marks_c_gray = [(4.0, 6.2)]

# ---------------- figure ----------------
W, H = 1160, 1591
fig = plt.figure(figsize=(W / 100, H / 100), dpi=100)


def box(x0, y0, x1, y1):
    # pixel box (top-left origin) -> figure fraction rect
    return [x0 / W, 1 - y1 / H, (x1 - x0) / W, (y1 - y0) / H]


axL = fig.add_axes(box(92.4, 18.3, 349, 485))
axR = fig.add_axes(box(357, 18.3, 1142, 485))
axB = fig.add_axes(box(92.4, 598, 1142, 1063))
axC = fig.add_axes(box(92.4, 1063, 1142, 1528))

LW = 1.5
TICKSIZE = 15
LEG = dict(loc='upper left', frameon=False, fontsize=14, handlelength=2.3,
           handletextpad=0.3, labelspacing=0.15, borderpad=0, borderaxespad=0)


def ticks(ax):
    ax.tick_params(which='both', direction='in', width=1.4, labelsize=TICKSIZE)
    ax.tick_params(which='major', length=7)
    ax.tick_params(which='minor', length=4)


# panel A, left part
for vals, c in [(gray_l, GRAY), (mag_l, MAGENTA), (green_l, GREEN), (blue_l, BLUE)]:
    axL.plot(wn_left, vals, color=c, lw=LW)
axL.set_xlim(3100, 2800)
axL.set_ylim(-0.01, 0.10)
axL.xaxis.set_major_locator(FixedLocator([3100, 3000, 2900]))
axL.xaxis.set_minor_locator(FixedLocator([3050, 2950, 2850]))
axL.yaxis.set_major_locator(MultipleLocator(0.02))
axL.yaxis.set_minor_locator(MultipleLocator(0.01))
axL.yaxis.set_major_formatter(FormatStrFormatter('%.2f'))
axL.spines['right'].set_visible(False)
axL.tick_params(which='both', top=True, right=False)
ticks(axL)
axL.tick_params(axis='x', pad=6)

# panel A, right part
handles = []
for vals, c in [(gray_r, GRAY), (mag_r, MAGENTA), (green_r, GREEN), (blue_r, BLUE)]:
    h, = axR.plot(wn_right, vals, color=c, lw=LW)
    handles.append(h)
for band in (band_amide, band_pops):
    axR.plot(band, [band_level, band_level], color=RED, lw=2.5, solid_capstyle='butt')
axR.set_xlim(1810, 900)
axR.set_ylim(-0.01, 0.10)
axR.xaxis.set_major_locator(MultipleLocator(100))
axR.xaxis.set_minor_locator(MultipleLocator(50))
axR.yaxis.set_major_locator(MultipleLocator(0.02))
axR.yaxis.set_minor_locator(MultipleLocator(0.01))
axR.spines['left'].set_visible(False)
axR.tick_params(which='both', top=True, right=True, left=False, labelleft=False)
ticks(axR)
axR.tick_params(axis='x', pad=6)

# axis break marks
for yb in (18.3, 485):
    for xc in (343, 362):
        fig.add_artist(Line2D([(xc - 9) / W, (xc + 9) / W],
                              [1 - (yb + 4) / H, 1 - (yb - 4) / H],
                              color='black', lw=1.4))

txtcol = [GRAY_TXT, MAGENTA, GREEN, BLUE]
axR.legend(handles, labels_a, bbox_to_anchor=(0.3096, 0.979), labelcolor=txtcol, **LEG)

fig.text(616 / W, 1 - 530 / H, 'Wavenumbers [cm$^{-1}$]', ha='center', va='center',
         fontsize=19, fontweight='bold')
fig.text(30 / W, 1 - 230 / H, 'Absorbance (at 4 h)', ha='center', va='center',
         rotation=90, fontsize=22, fontweight='bold')
fig.text(12 / W, 1 - 29 / H, 'A)', ha='left', va='center', fontsize=22, fontweight='bold')


# panels B and C
def two_tone(ax, pts, t_split, c_early, c_late):
    t, v = np.array(pts).T
    i = np.searchsorted(t, t_split, side='right')
    ax.plot(t[:i], v[:i], color=c_early, lw=LW, zorder=3)
    ax.plot(t[i - 1:], v[i - 1:], color=c_late, lw=LW, zorder=2)


def time_panel(ax, gray, mag, green, blue, red_marks, gray_marks):
    two_tone(ax, gray, 4.0, GRAY_DARK, GRAY)
    two_tone(ax, mag, 1.0, PURPLE, MAGENTA)
    two_tone(ax, green, 4.0, LIME, GREEN)
    two_tone(ax, blue, 1.0, BLUE, BLUE)
    rt, rv = np.array(red_marks).T
    ax.plot(rt, rv + 0.06, 'v', color=RED, ms=11, zorder=5, clip_on=False)
    gt, gv = np.array(gray_marks).T
    ax.plot(gt, gv + 0.06, 'v', color=GRAY_DARK, ms=11, zorder=5, clip_on=False)
    ax.set_xlim(0, 48)
    ax.set_ylim(0, 7.5)
    ax.xaxis.set_major_locator(MultipleLocator(4))
    ax.xaxis.set_minor_locator(MultipleLocator(1))
    ax.yaxis.set_major_locator(MultipleLocator(1))
    ax.yaxis.set_minor_locator(MultipleLocator(0.5))
    ax.tick_params(which='both', top=True, right=True)
    ticks(ax)
    return [Line2D([], [], color=c, lw=LW) for c in (GRAY, MAGENTA, GREEN, BLUE)]


hsB = time_panel(axB, gray_b, mag_b, green_b, blue_b, marks_b_red, marks_b_gray)
axB.tick_params(labeltop=True, labelbottom=False, pad=4)
axB.legend(hsB, labels_bc, bbox_to_anchor=(0.4836, 0.970), labelcolor=txtcol, **LEG)

hsC = time_panel(axC, gray_c, mag_c, green_c, blue_c, marks_c_red, marks_c_gray)
axC.tick_params(labeltop=False, labelbottom=True)
axC.tick_params(axis='x', pad=6)
axC.legend(hsC, labels_bc, bbox_to_anchor=(0.4836, 0.961), labelcolor=txtcol, **LEG)

fig.text(50 / W, 1 - 817 / H, r'Integrated $\mathbf{Amide\ II\ area}$ [arb. unit]',
         ha='center', va='center', rotation=90, fontsize=20, fontweight='normal')
fig.text(50 / W, 1 - 1309 / H, r'Integrated $\mathbf{PO\!+\!PS\ area}$ [arb. unit]',
         ha='center', va='center', rotation=90, fontsize=19, fontweight='normal')
fig.text(613 / W, 1 - 1578 / H, 'Time [h]', ha='center', va='center',
         fontsize=17, fontweight='bold')
fig.text(12 / W, 1 - 598 / H, 'B)', ha='left', va='center', fontsize=22, fontweight='bold')
fig.text(12 / W, 1 - 1094 / H, 'C)', ha='left', va='center', fontsize=22, fontweight='bold')

fig.savefig('out.png', dpi=100)
